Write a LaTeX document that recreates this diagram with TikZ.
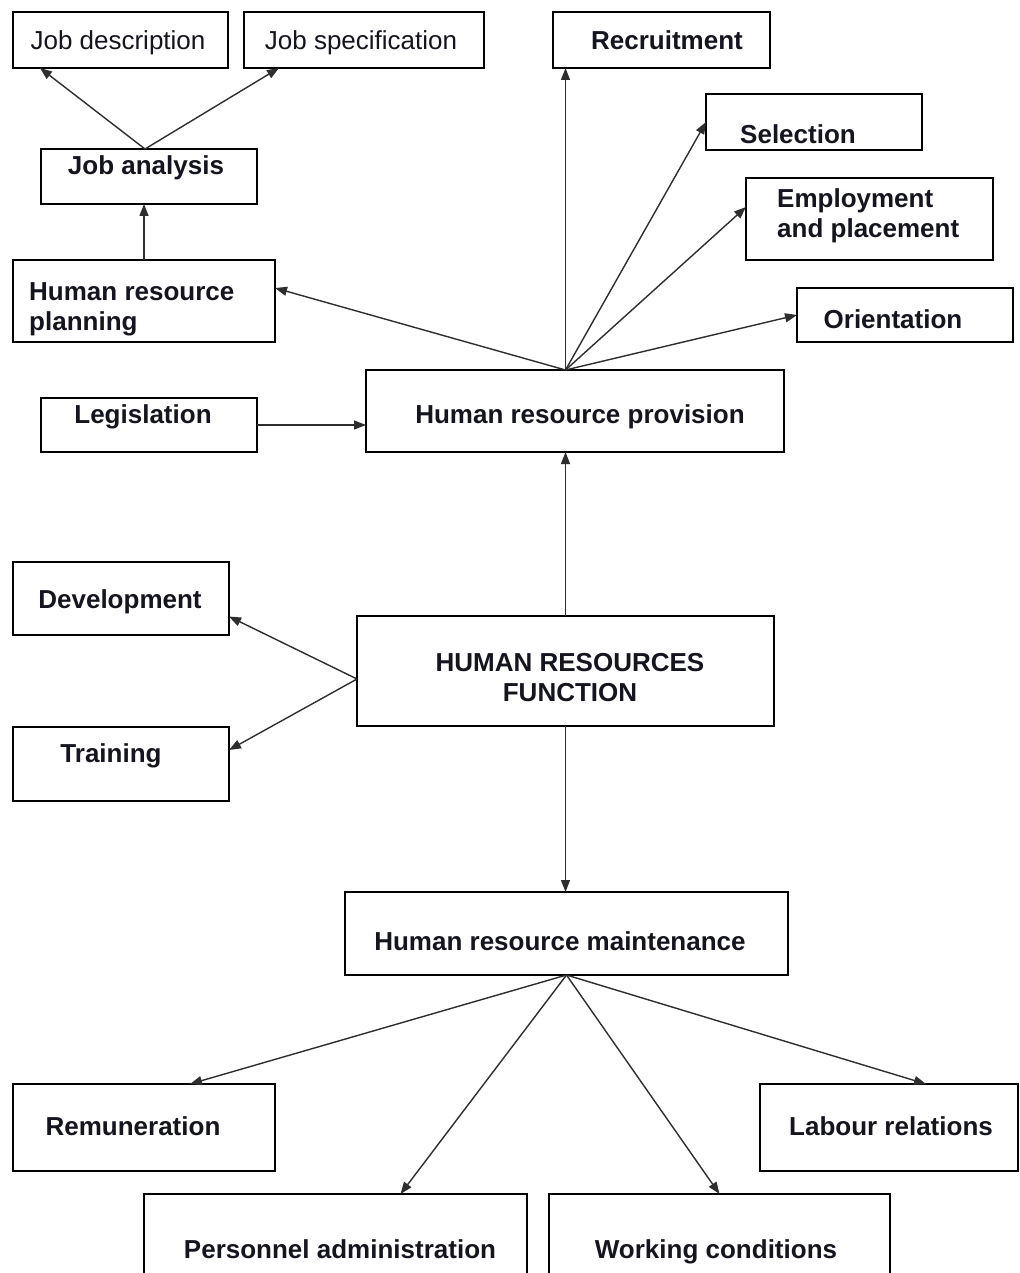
\documentclass[tikz,border=0pt]{standalone}
\usepackage{fontspec}
\setmainfont{Liberation Sans}
\usetikzlibrary{arrows.meta}
\definecolor{ink}{HTML}{15151F}
\definecolor{wire}{HTML}{2E2E2E}
\begin{document}
\begin{tikzpicture}[x=1pt,y=-1pt,
  box/.style={draw=black, line width=1.8pt, fill=white, inner sep=0pt, outer sep=0pt},
  lbl/.style={font=\fontsize{26}{30}\selectfont\bfseries, text=ink, inner sep=0pt, anchor=base},
  lblr/.style={lbl, font=\fontsize{26}{30}\selectfont},
  link/.style={draw=wire, line width=1.4pt, -{Triangle[length=12pt,width=9pt]}}]
\fill[white] (0,0) rectangle (1019,1273);
\clip (0,0) rectangle (1019,1273);

% ---- boxes ----
\node[box, minimum width=215pt, minimum height=56pt]  (jd)    at (120.5,40)   {};
\node[box, minimum width=240pt, minimum height=56pt]  (js)    at (364,40)     {};
\node[box, minimum width=216pt, minimum height=55pt]  (ja)    at (149,176.5)  {};
\node[box, minimum width=262pt, minimum height=82pt]  (hrp)   at (144,301)    {};
\node[box, minimum width=217pt, minimum height=56pt]  (rec)   at (661.5,40)   {};
\node[box, minimum width=216pt, minimum height=56pt]  (sel)   at (814,122)    {};
\node[box, minimum width=247pt, minimum height=82pt]  (emp)   at (869.5,219)  {};
\node[box, minimum width=216pt, minimum height=54pt]  (ori)   at (905,315)    {};
\node[box, minimum width=216pt, minimum height=54pt]  (leg)   at (149,425)    {};
\node[box, minimum width=418pt, minimum height=82pt]  (prov)  at (575,411)    {};
\node[box, minimum width=216pt, minimum height=73pt]  (dev)   at (121,598.5)  {};
\node[box, minimum width=216pt, minimum height=74pt]  (tr)    at (121,764)    {};
\node[box, minimum width=417pt, minimum height=110pt] (func)  at (565.5,671)  {};
\node[box, minimum width=443pt, minimum height=83pt]  (maint) at (566.5,933.5){};
\node[box, minimum width=262pt, minimum height=87pt]  (rem)   at (144,1127.5) {};
\node[box, minimum width=258pt, minimum height=87pt]  (lab)   at (889,1127.5) {};
\node[box, minimum width=383pt, minimum height=106pt] (pa)    at (335.5,1247) {};
\node[box, minimum width=341pt, minimum height=106pt] (wc)    at (719.5,1247) {};

% ---- labels (two-line labels sit on the baseline of their last line) ----
\node[lblr] (jd-t)  at (118,50)  {Job description};
\node[lblr] (js-t)  at (361,50)  {Job specification};
\node[lbl]  (ja-t)  at (146,175) {Job analysis};
\node[lbl, anchor=base west, align=left] (hrp-t) at (29,330) {Human resource\\planning};
\node[lbl]  (rec-t) at (667,50)  {Recruitment};
\node[lbl]  (sel-t) at (798,144) {Selection};
\node[lbl, anchor=base west, align=left] (emp-t) at (777,237) {Employment\\and placement};
\node[lbl]  (ori-t) at (893,328) {Orientation};
\node[lbl]  (leg-t) at (143,423) {Legislation};
\node[lbl]  (prov-t) at (580,423) {Human resource provision};
\node[lbl]  (dev-t) at (120,608) {Development};
\node[lbl]  (tr-t)  at (111,762) {Training};
\node[lbl, align=center] (func-t) at (570,701) {HUMAN RESOURCES\\FUNCTION};
\node[lbl]  (maint-t) at (560,950) {Human resource maintenance};
\node[lbl]  (rem-t) at (133,1135) {Remuneration};
\node[lbl]  (lab-t) at (891,1135) {Labour relations};
\node[lbl]  (pa-t)  at (340,1258) {Personnel administration};
\node[lbl]  (wc-t)  at (716,1258) {Working conditions};

% ---- hubs ----
\coordinate (fan)  at (prov.north -| func.north);
\coordinate (jhub) at ([xshift=-4pt]ja.north);
\coordinate (fhub) at ([yshift=-8pt]func.west);

% ---- connectors ----
\draw[link] (jhub) -- ([xshift=27pt]jd.south west);
\draw[link] (jhub) -- ([xshift=35pt]js.south west);
\draw[link] (hrp.north) -- (hrp.north |- ja.south);

\draw[link] (fan) -- (fan |- rec.south);
\draw[link] (fan) -- (sel.west);
\draw[link] (fan) -- ([yshift=12pt]emp.west);
\draw[link] (fan) -- (ori.west);
\draw[link] (fan) -- ([yshift=13pt]hrp.east);
\draw[link] (leg.east) -- (leg.east -| prov.west);

\draw[link] (func.north) -- (func.north |- prov.south);
\draw[link] (fhub) -- ([yshift=-18pt]dev.east);
\draw[link] (fhub) -- ([yshift=14pt]tr.east);
\draw[link] (func.south) -- (func.south |- maint.north);

\draw[link] (maint.south) -- ([xshift=46pt]rem.north);
\draw[link] (maint.south) -- ([xshift=65pt]pa.north);
\draw[link] (maint.south) -- (wc.north);
\draw[link] (maint.south) -- ([xshift=37pt]lab.north);
\end{tikzpicture}
\end{document}
